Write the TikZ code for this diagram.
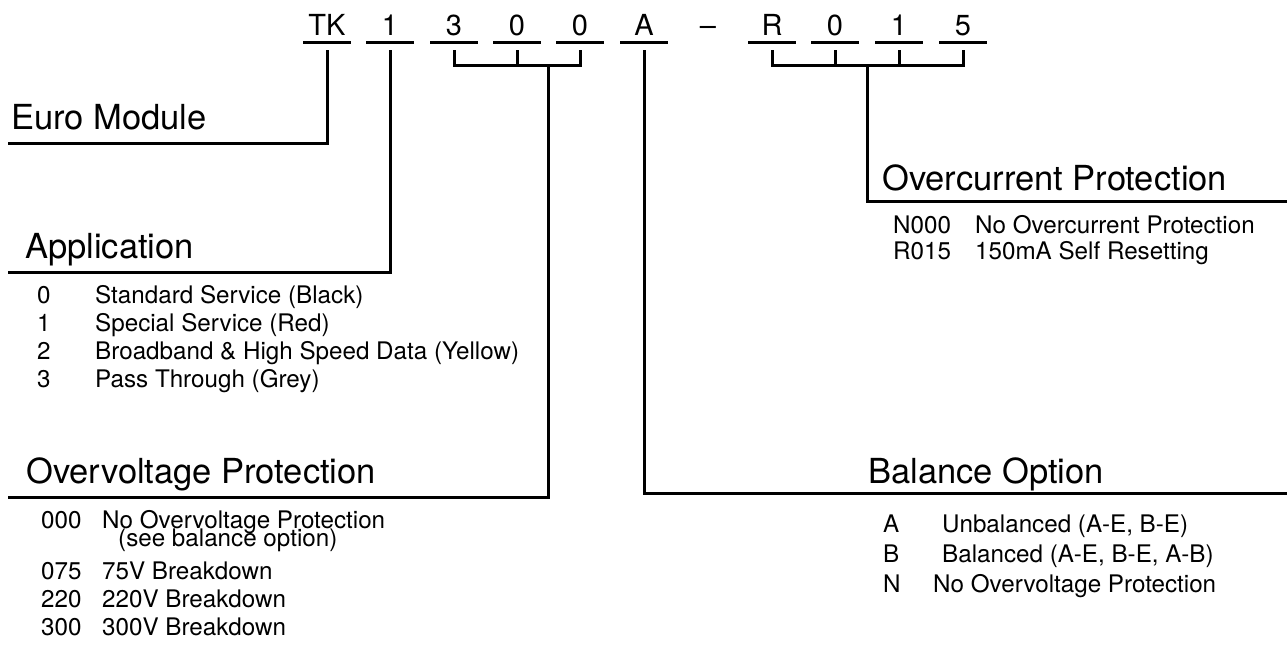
\documentclass[tikz,border=0pt]{standalone}
\usepackage{fontspec}
\setmainfont{TeX Gyre Heros}
\usetikzlibrary{calc}

\tikzset{
  code/.style={anchor=base, inner sep=0pt, minimum width=47pt,
               font=\fontsize{29}{33}\selectfont},
  heading/.style={anchor=base west, inner sep=0pt,
                  font=\fontsize{34.5}{40}\selectfont},
  item/.style={anchor=base west, inner sep=0pt,
               font=\fontsize{24.2}{28}\selectfont},
  rule/.style={line width=3pt},
}

\begin{document}
\begin{tikzpicture}[x=1pt, y=-1pt]
    \useasboundingbox (0,0) rectangle (1287,645);

    % part number, one cell per field
    \foreach \n/\c/\x in {tk/TK/327, app/1/390, ov1/3/454, ov2/0/517,
                          ov3/0/580, bal/A/644, dash/--/708, oc1/R/772,
                          oc2/0/835, oc3/1/899, oc4/5/963}
        \node[code] (\n) at (\x,35) {\c};
    \foreach \n in {tk,app,ov1,ov2,ov3,bal,oc1,oc2,oc3,oc4}{
        \draw[rule] ([yshift=-7pt]\n.base west) -- ([yshift=-7pt]\n.base east);
        \coordinate (\n-top) at ([yshift=-15pt]\n.base);
        \coordinate (\n-bot) at ([yshift=-30pt]\n.base);
    }

    % brackets
    \draw[rule] (ov1-top) -- (ov1-bot) -- (ov3-bot) -- (ov3-top);
    \draw[rule] (ov2-top) -- (ov2-bot);
    \draw[rule] (oc1-top) -- (oc1-bot) -- (oc4-bot) -- (oc4-top);
    \draw[rule] (oc2-top) -- (oc2-bot);
    \draw[rule] (oc3-top) -- (oc3-bot);
    \coordinate (ov-stem) at ($(ov2-bot)!0.5!(ov3-bot)$);
    \coordinate (oc-stem) at ($(oc2-bot)!0.5!(oc3-bot)$);

    % headings
    \node[heading] (euro) at (11,129) {Euro Module};
    \node[heading] (appl) at (25,258) {Application};
    \node[heading] (ovp)  at (26,483) {Overvoltage Protection};
    \node[heading] (ocp)  at (882,190) {Overcurrent Protection};
    \node[heading] (balo) at (868,483) {Balance Option};
    \coordinate (euro-end) at (8,143);
    \coordinate (appl-end) at (8,272);
    \coordinate (ovp-end)  at (8,497);
    \coordinate (ocp-end)  at (1287,201);
    \coordinate (balo-end) at (1287,493);

    % leaders
    \draw[rule] (tk-top)   |- (euro-end);
    \draw[rule] (app-top)  |- (appl-end);
    \draw[rule] (ov-stem)  |- (ovp-end);
    \draw[rule] (bal-top)  |- (balo-end);
    \draw[rule] (oc-stem)  |- (ocp-end);

    % option lists
    \foreach \k/\t [count=\i from 0] in {0/Standard Service (Black),
            1/Special Service (Red), 2/Broadband \& High Speed Data (Yellow),
            3/Pass Through (Grey)}{
        \node[item] (appk\i) at (37,{303+28*\i}) {\k};
        \node[item] (appt\i) at (95,{303+28*\i}) {\t};
    }

    \node[item] (ovk0) at (41,528) {000};
    \node[item] (ovt0) at (102,528) {No Overvoltage Protection};
    \node[item] (ovt0b) at (118,546) {(see balance option)};
    \foreach \k/\t [count=\i] in {075/75V Breakdown, 220/220V Breakdown,
                                  300/300V Breakdown}{
        \node[item] (ovk\i) at (41,{551+28*\i}) {\k};
        \node[item] (ovt\i) at (102,{551+28*\i}) {\t};
    }

    \node[item] (ock0) at (893,233) {N000};
    \node[item] (oct0) at (975,233) {No Overcurrent Protection};
    \node[item] (ock1) at (893,259) {R015};
    \node[item] (oct1) at (975,259) {150mA Self Resetting};

    \node[item] (balk0) at (883,532) {A};
    \node[item] (balt0) at (942,532) {Unbalanced (A-E, B-E)};
    \node[item] (balk1) at (883,562) {B};
    \node[item] (balt1) at (942,562) {Balanced (A-E, B-E, A-B)};
    \node[item] (balk2) at (883,592) {N};
    \node[item] (balt2) at (933,592) {No Overvoltage Protection};
\end{tikzpicture}
\end{document}
